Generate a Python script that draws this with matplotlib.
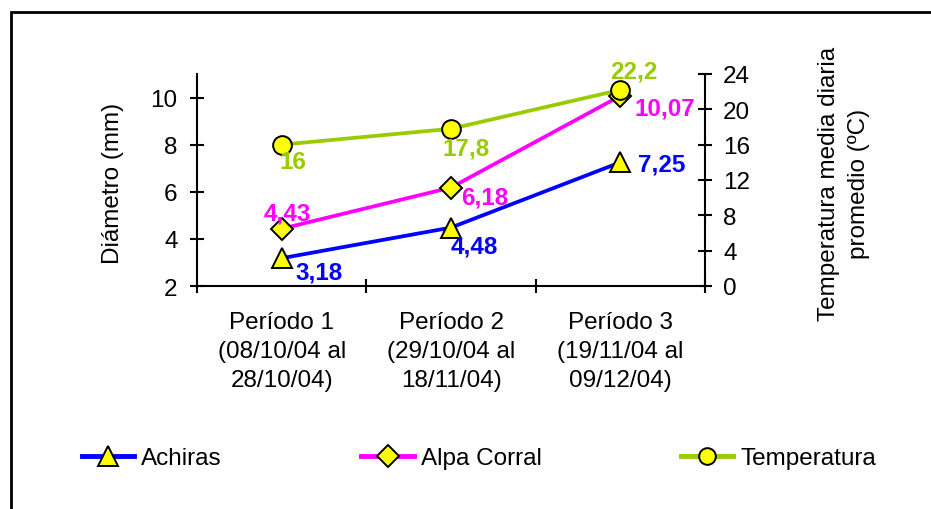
import numpy as np
import matplotlib.pyplot as plt
from matplotlib.patches import Rectangle
from matplotlib.lines import Line2D

plt.rcParams['font.family'] = ['Liberation Sans', 'DejaVu Sans']

periodos = ["Período 1\n(08/10/04 al\n28/10/04)",
            "Período 2\n(29/10/04 al\n18/11/04)",
            "Período 3\n(19/11/04 al\n09/12/04)"]
achiras = [3.18, 4.48, 7.25]
alpa_corral = [4.43, 6.18, 10.07]
temperatura = [16, 17.8, 22.2]

BLUE = "#0000FF"
MAGENTA = "#FF00FF"
GREEN = "#99CC00"
YELLOW = "#FFFF00"
FS = 17.5
LW = 2.7

fig = plt.figure(figsize=(9.31, 5.10), dpi=100)
W, H = 931, 510
ax = fig.add_axes([197 / W, 1 - 287 / H, 508 / W, 212 / H])
ax2 = ax.twinx()

x = np.arange(len(periodos))

# outer frame
fig.patches.append(Rectangle((11 / W, -0.2), 1.2, 1.2 - 13 / H, transform=fig.transFigure,
                             fill=False, edgecolor="black", linewidth=2))

mk = dict(markerfacecolor=YELLOW, markeredgecolor="black", markeredgewidth=1.4)
ax.plot(x, achiras, color=BLUE, lw=LW, marker="^", ms=14, zorder=3, **mk)
ax.plot(x, alpa_corral, color=MAGENTA, lw=LW, marker="D", ms=11, zorder=3, **mk)
ax2.plot(x, temperatura, color=GREEN, lw=LW, marker="o", ms=13.5, zorder=3, **mk)

# value labels (offsets in pixels)
def etiquetas(axis, vals, color, offs):
    for xi, v, (dx, dy) in zip(x, vals, offs):
        axis.annotate(f"{v:g}".replace(".", ","), (xi, v), xytext=(dx * 0.72, -dy * 0.72),
                      textcoords="offset points", color=color, fontsize=FS,
                      fontweight="bold", ha="left", va="center", zorder=5)

etiquetas(ax, achiras, BLUE, [(14, 14), (0, 18), (18, 2)])
etiquetas(ax, alpa_corral, MAGENTA, [(-18, -16), (10, 9), (14, 12)])
etiquetas(ax2, temperatura, GREEN, [(-2, 17), (-9, 19), (-10, -19)])

ax.set_xlim(-0.5, 2.5)
ax.set_ylim(2, 11)
ax2.set_ylim(0, 24)
ax.set_yticks([2, 4, 6, 8, 10])
ax2.set_yticks(np.arange(0, 25, 4))
ax.set_xticks([-0.5, 0.5, 1.5, 2.5])
ax.set_xticklabels([])
ax.set_xticks(x, minor=True)
ax.set_xticklabels(periodos, minor=True, fontsize=FS, linespacing=1.42)

for s in ["top", "right"]:
    ax.spines[s].set_visible(False)
for s in ["top", "left", "bottom"]:
    ax2.spines[s].set_visible(False)
for sp in [ax.spines["left"], ax.spines["bottom"], ax2.spines["right"]]:
    sp.set_linewidth(1.5)

ax.tick_params(axis="y", direction="inout", length=10, width=1.5, labelsize=FS, pad=9)
ax.tick_params(axis="x", which="major", direction="inout", length=10, width=1.5)
ax.tick_params(axis="x", which="minor", length=0, pad=18)
ax2.tick_params(axis="y", direction="inout", length=10, width=1.5, labelsize=FS, pad=8)

fig.text(113 / W, 1 - 183 / H, "Diámetro (mm)", rotation=90, ha="center", va="center", fontsize=FS)
fig.text(844 / W, 1 - 184 / H, "Temperatura media diaria\npromedio (ºC)", rotation=90,
         ha="center", va="center", fontsize=FS, linespacing=1.42, multialignment="center")

handles = [
    Line2D([], [], color=BLUE, lw=3.5, marker="^", ms=14, **mk),
    Line2D([], [], color=MAGENTA, lw=3.5, marker="D", ms=11, **mk),
    Line2D([], [], color=GREEN, lw=3.5, marker="o", ms=12, **mk),
]
fig.legend(handles, ["Achiras", "Alpa Corral", "Temperatura"], loc="center left",
           bbox_to_anchor=(82 / W, 1 - 459 / H), ncol=3, frameon=False, fontsize=FS,
           handlelength=2.15, handletextpad=0.28, columnspacing=5.75, borderpad=0,
           borderaxespad=0)

fig.savefig("out.png", dpi=100)
